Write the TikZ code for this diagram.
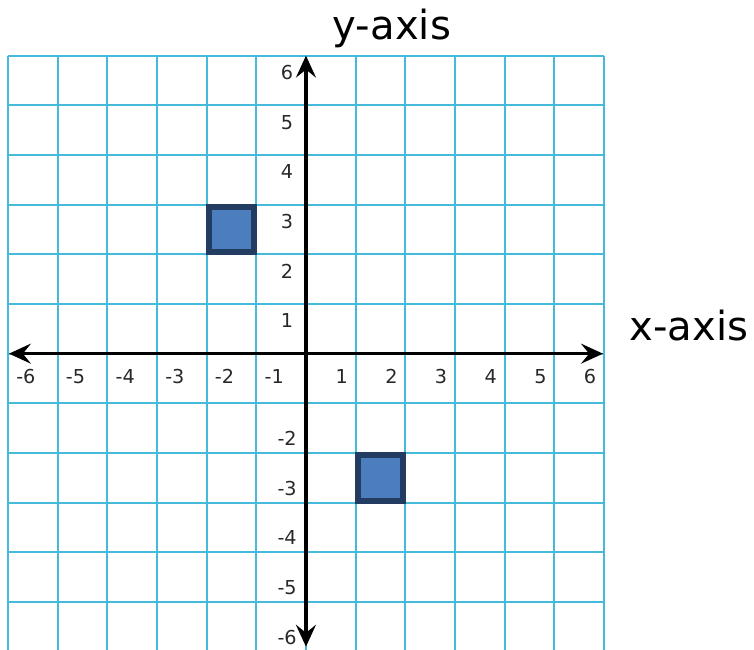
\documentclass[tikz,border=0pt]{standalone}
\usepackage{fontspec}
\setmainfont{DejaVu Sans}
\usepackage{tikz}
\usetikzlibrary{arrows.meta}
\definecolor{gridcyan}{RGB}{70,186,218}
\definecolor{markfill}{RGB}{76,125,188}
\definecolor{markdraw}{RGB}{35,60,98}
\definecolor{labelgray}{RGB}{40,40,40}
\tikzset{
  gridline/.style={gridcyan, line width=1.2pt},
  axisline/.style={{Stealth[length=4.4mm,width=4mm,inset=1.6mm]}-{Stealth[length=4.4mm,width=4mm,inset=1.6mm]}, line width=2pt, black},
  marker/.style={fill=markfill, draw=markdraw, line width=3.4pt},
  ticklabel/.style={font=\fontsize{11}{12}\selectfont, text=labelgray, inner sep=0pt},
  axislabel/.style={font=\fontsize{23}{26}\selectfont, anchor=base, inner sep=0pt},
}
\begin{document}
\begin{tikzpicture}
\useasboundingbox (-6.16,-5.95) rectangle (9.02,7.12);
% grid
\foreach \k in {-6,...,6} {
  \draw[gridline] (\k,-6) -- (\k,6);
  \draw[gridline] (-6,\k) -- (6,\k);
}
% squares
\draw[marker] (-1.96,2.04) rectangle (-1.04,2.96);
\draw[marker] (1.04,-2.96) rectangle (1.96,-2.04);
% axes
\coordinate (xl) at (-5.98,0);
\coordinate (xr) at (5.98,0);
\coordinate (yb) at (0,-5.9);
\coordinate (yt) at (0,6);
\draw[axisline] (xl) -- (xr);
\draw[axisline] (yb) -- (yt);
% tick labels
\foreach \n in {1,...,6} {
  \node[ticklabel] (xp\n) at (\n-0.28,-0.46) {\n};
  \node[ticklabel] (xn\n) at (-\n+0.36,-0.46) {-\n};
  \node[ticklabel] (yp\n) at (-0.38,\n-0.34) {\n};
}
\foreach \n in {2,...,6} {
  \node[ticklabel] (yn\n) at (-0.38,-\n+0.29) {-\n};
}
\node[axislabel] (ylab) at (1.73,6.33) {y-axis};
\node[axislabel] (xlab) at (7.71,0.27) {x-axis};
\end{tikzpicture}
\end{document}
